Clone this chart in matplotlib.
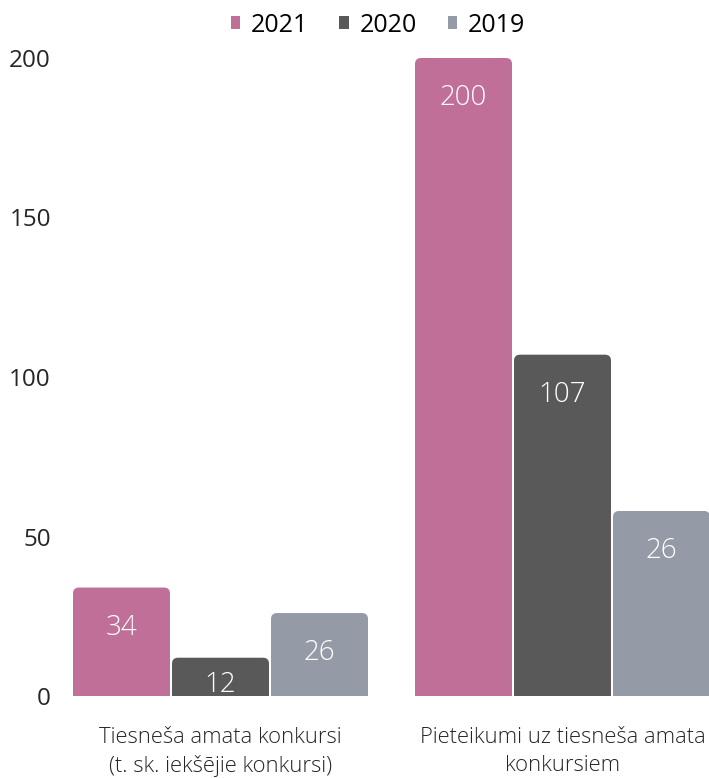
import numpy as np
import matplotlib
matplotlib.use("Agg")
import matplotlib.pyplot as plt
from matplotlib.path import Path
from matplotlib.patches import PathPatch, Patch

# Data
categories = ["Tiesneša amata konkursi\n(t. sk. iekšējie konkursi)",
              "Pieteikumi uz tiesneša amata\nkonkursiem"]
series = ["2021", "2020", "2019"]
values = {
    "2021": [34, 200],
    "2020": [12, 107],
    "2019": [26, 58],
}
labels = {
    "2021": ["34", "200"],
    "2020": ["12", "107"],
    "2019": ["26", "26"],
}
colors = {"2021": "#C07098", "2020": "#595959", "2019": "#959BA6"}

plt.rcParams['font.family'] = ['Open Sans', 'DejaVu Sans']

W, H = 709, 778
fig = plt.figure(figsize=(W / 100, H / 100), dpi=100)
ax_left, ax_bottom, ax_top = 55, 696, 58
ax = fig.add_axes([ax_left / W, 1 - ax_bottom / H, 1 - ax_left / W, (ax_bottom - ax_top) / H])

px_per_cat = 342.0
px_per_unit = (ax_bottom - ax_top) / 200.0
ax.set_xlim((ax_left - 220.5) / px_per_cat, (709 - 220.5) / px_per_cat)
ax.set_ylim(0, 200)

step = 99 / px_per_cat
width = 97 / px_per_cat
rx = 6 / px_per_cat
ry = 6 / px_per_unit


def rounded_bar(x0, w, h, color):
    x1 = x0 + w
    verts = [(x0, 0), (x0, h - ry), (x0, h), (x0 + rx, h),
             (x1 - rx, h), (x1, h), (x1, h - ry), (x1, 0), (x0, 0)]
    codes = [Path.MOVETO, Path.LINETO, Path.CURVE3, Path.CURVE3,
             Path.LINETO, Path.CURVE3, Path.CURVE3, Path.LINETO, Path.CLOSEPOLY]
    return PathPatch(Path(verts, codes), facecolor=color, edgecolor='none', clip_on=False)


x = np.arange(len(categories))
for i, s in enumerate(series):
    for j, v in enumerate(values[s]):
        cx = x[j] + (i - 1) * step
        ax.add_patch(rounded_bar(cx - width / 2, width, v, colors[s]))
        off = -20 if v * px_per_unit < 60 else -29
        ax.annotate(labels[s][j], (cx, v), xytext=(0, off), textcoords='offset points',
                    ha='center', va='center', color='white', fontsize=20, fontweight='light')

ax.set_yticks([0, 50, 100, 150, 200])
ax.set_xticks(x)
ax.set_xticklabels(categories, fontsize=15.8, fontweight='light', color='#262626', linespacing=1.45)
ax.tick_params(axis='y', length=0, labelsize=17.5, labelcolor='#262626', pad=3)
ax.tick_params(axis='x', length=0, pad=22)
for sp in ax.spines.values():
    sp.set_visible(False)

handles = [Patch(facecolor=colors[s], label=s) for s in series]
fig.legend(handles=handles, loc='center', bbox_to_anchor=(0.533, 1 - 25 / H), ncol=3,
           frameon=False, fontsize=18, handlelength=0.38, handleheight=0.38,
           handletextpad=0.42, columnspacing=1.25)

fig.savefig("out.png", dpi=100)
